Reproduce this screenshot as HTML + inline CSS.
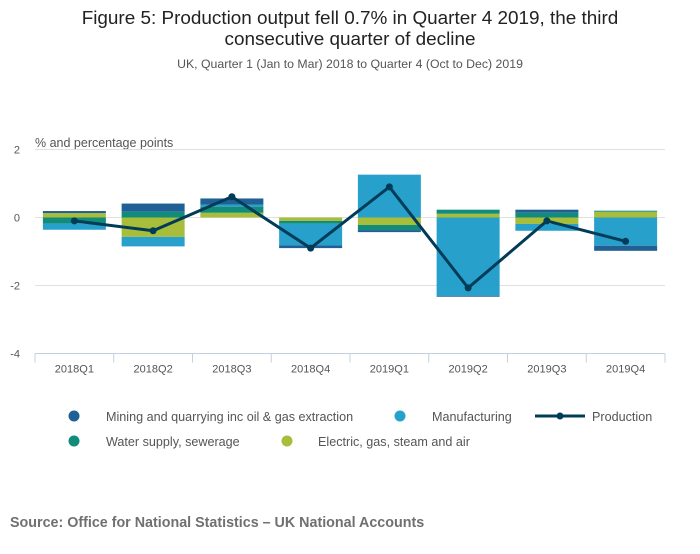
<!DOCTYPE html>
<html><head><meta charset="utf-8"><style>
body{margin:0;background:#fff;font-family:"Liberation Sans",sans-serif;}
</style></head><body>
<svg width="700" height="549" xmlns="http://www.w3.org/2000/svg" style="font-family:'Liberation Sans',sans-serif">
<text x="350" y="24" text-anchor="middle" font-size="18.9" fill="#222">Figure 5: Production output fell 0.7% in Quarter 4 2019, the third</text>
<text x="350" y="45" text-anchor="middle" font-size="18.9" fill="#222">consecutive quarter of decline</text>
<text x="350" y="68" text-anchor="middle" font-size="12.3" fill="#555">UK, Quarter 1 (Jan to Mar) 2018 to Quarter 4 (Oct to Dec) 2019</text>
<text x="35" y="147" font-size="12.5" fill="#555">% and percentage points</text>
<g id="grid"></g><g id="bars"></g><g id="line"></g><g id="xaxis"></g>
<g font-size="12.6" fill="#555">
<g><circle cx="74" cy="416" r="5.5" fill="#206095"/><text x="106" y="421" fill="#555">Mining and quarrying inc oil &amp; gas extraction</text></g>
<g><circle cx="400" cy="416" r="5.5" fill="#27a0cc"/><text x="432" y="421" fill="#555">Manufacturing</text></g>
<g><line x1="535" y1="416" x2="585" y2="416" stroke="#003c57" stroke-width="3"/><circle cx="560" cy="416" r="3.5" fill="#003c57"/><text x="592" y="421" fill="#555">Production</text></g>
<g><circle cx="74" cy="441" r="5.5" fill="#118c7b"/><text x="106" y="446" fill="#555">Water supply, sewerage</text></g>
<g><circle cx="287" cy="441" r="5.5" fill="#a8bd3a"/><text x="318" y="446" fill="#555">Electric, gas, steam and air</text></g>
</g>
<text x="10" y="527" font-size="14.3" font-weight="bold" fill="#707070">Source: Office for National Statistics – UK National Accounts</text>
</svg>
<script>
const categories=["2018Q1","2018Q2","2018Q3","2018Q4","2019Q1","2019Q2","2019Q3","2019Q4"];
const mining=[0.06,0.24,0.18,-0.08,-0.06,-0.03,0.09,-0.15];
const manufacturing=[-0.18,-0.28,0.06,-0.64,1.26,-2.3,-0.2,-0.83];
const water=[-0.18,0.17,0.18,-0.08,-0.15,0.12,0.14,0.03];
const electric=[0.13,-0.57,0.14,-0.1,-0.22,0.11,-0.19,0.17];
const production=[-0.1,-0.39,0.61,-0.9,0.9,-2.07,-0.1,-0.7];
const yTicks=[2,0,-2,-4];
const NS="http://www.w3.org/2000/svg";
const x0=35,x1=665,yTop=149.5,yBot=353.5,vMax=2,vMin=-4;
const step=(x1-x0)/categories.length;
function y(v){return yTop+(vMax-v)/(vMax-vMin)*(yBot-yTop);}
function xc(i){return x0+step*(i+0.5);}
function mk(tag,attrs,parent){const e=document.createElementNS(NS,tag);for(const k in attrs)e.setAttribute(k,attrs[k]);parent.appendChild(e);return e;}
const grid=document.getElementById('grid'),bars=document.getElementById('bars'),line=document.getElementById('line'),xa=document.getElementById('xaxis');
yTicks.forEach(t=>{
 if(t!==vMin){const g=mk('line',{x1:x0,x2:x1,y1:y(t),y2:y(t),stroke:'#e0e0e0','stroke-width':1},grid);
 
 }
 const tx=mk('text',{x:20,y:y(t)+4,'text-anchor':'end','font-size':11,fill:'#555'},grid);tx.textContent=t;
 
 
});
const series=[[electric,'#a8bd3a','electric'],[water,'#118c7b','water'],[manufacturing,'#27a0cc','manufacturing'],[mining,'#206095','mining']];
categories.forEach((c,i)=>{
 let pos=0,neg=0;const bw=63;
 series.forEach(([arr,col,nm])=>{
  const v=arr[i];let a,b;
  if(v>=0){a=pos;b=pos+v;pos=b;}else{a=neg;b=neg+v;neg=b;}
  const r=mk('rect',{x:xc(i)-bw/2,y:Math.min(y(a),y(b)),width:bw,height:Math.abs(y(a)-y(b)),fill:col},bars);
  
  
 });
 const tk=mk('line',{x1:x0+step*i,x2:x0+step*i,y1:yBot,y2:yBot+9,stroke:'#c0d0e0'},xa);
 
 
 const lb=mk('text',{x:xc(i),y:yBot+19,'text-anchor':'middle','font-size':11,fill:'#555'},xa);lb.textContent=c;
 
 
});
const tkEnd=mk('line',{x1:x1,x2:x1,y1:yBot,y2:yBot+9,stroke:'#c0d0e0'},xa);


const ax=mk('line',{x1:x0,x2:x1,y1:yBot,y2:yBot,stroke:'#c0d0e0'},xa);


const pl=mk('polyline',{points:production.map((v,i)=>xc(i)+','+y(v)).join(' '),fill:'none',stroke:'#003c57','stroke-width':3,'stroke-linejoin':'round'},line);


production.forEach((v,i)=>{
 const p=mk('circle',{cx:xc(i),cy:y(v),r:3.5,fill:'#003c57'},line);
 
 
});
</script>
</body></html>
